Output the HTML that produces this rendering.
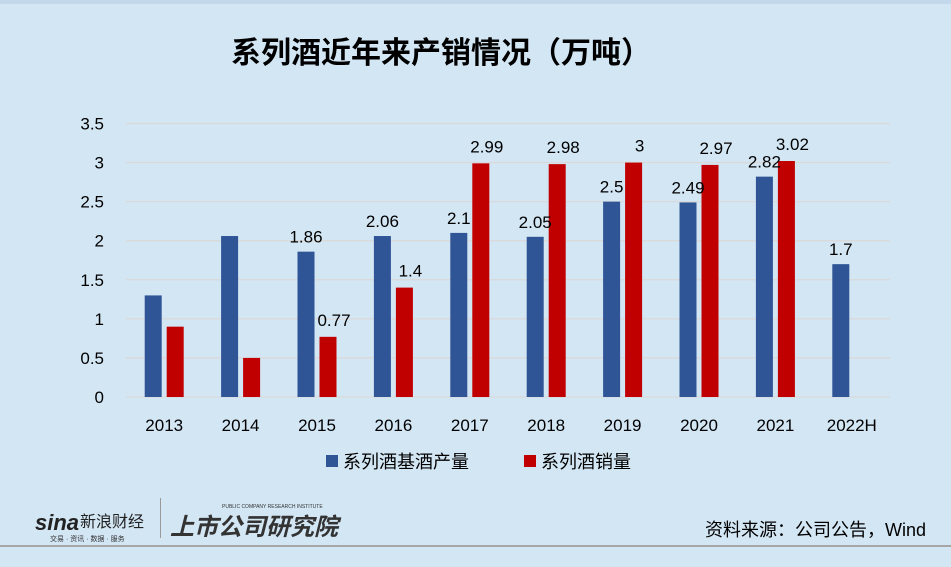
<!DOCTYPE html>
<html><head><meta charset="utf-8">
<style>
body{margin:0;background:#d3e6f4;}
#wrap{position:relative;width:951px;height:567px;background:#d3e6f4;overflow:hidden;font-family:"Liberation Sans","Noto Sans CJK SC",sans-serif;}
</style></head>
<body>
<div id="wrap">
<svg id="chart" width="951" height="567" style="position:absolute;left:0;top:0">
<rect x="0" y="0" width="951" height="567" fill="#d3e6f4"/>
<rect x="0" y="0" width="951" height="4" fill="#c3d8ea"/>
<text x="441" y="63" text-anchor="middle" font-size="30" font-weight="bold" font-family="'Liberation Sans','Noto Sans CJK SC',sans-serif" fill="#000">系列酒近年来产销情况（万吨）</text>
<g id="grid"></g><g id="yt"></g><g id="bars"></g><g id="labels"></g><g id="xt"></g>
<rect x="326" y="455" width="12" height="12" fill="#2f5597"/>
<text x="343" y="468" font-size="18" fill="#000" font-family="'Liberation Sans','Noto Sans CJK SC',sans-serif">系列酒基酒产量</text>
<rect x="524" y="455" width="12" height="12" fill="#c00000"/>
<text x="541" y="468" font-size="18" fill="#000" font-family="'Liberation Sans','Noto Sans CJK SC',sans-serif">系列酒销量</text>
<g>
<text x="35" y="530" font-size="22" font-style="italic" font-weight="bold" fill="#222">sina</text>
<text x="80" y="527" font-size="16" fill="#222" font-family="'Liberation Sans','Noto Sans CJK SC',sans-serif">新浪财经</text>
<text x="50" y="541" font-size="7" fill="#333" font-family="'Liberation Sans','Noto Sans CJK SC',sans-serif">交易 · 资讯 · 数据 · 服务</text>
<rect x="160" y="498" width="1" height="40" fill="#999"/>
<text x="170" y="535" font-size="24" font-weight="bold" font-style="italic" fill="#333" font-family="'Liberation Sans','Noto Sans CJK SC',sans-serif">上市公司研究院</text>
<text x="222" y="508" font-size="5" fill="#333">PUBLIC COMPANY RESEARCH INSTITUTE</text>
</g>
<text x="926" y="536" text-anchor="end" font-size="18" fill="#000" font-family="'Liberation Sans','Noto Sans CJK SC',sans-serif">资料来源：公司公告，Wind</text>
<rect x="0" y="545" width="951" height="2" fill="#a6a6a6"/>
</svg>
</div>
<script>
const categories=["2013","2014","2015","2016","2017","2018","2019","2020","2021","2022H"];
const production=[1.3,2.06,1.86,2.06,2.1,2.05,2.5,2.49,2.82,1.7];
const sales=[0.9,0.5,0.77,1.4,2.99,2.98,3,2.97,3.02,null];
const productionLabels=[null,null,"1.86","2.06","2.1","2.05","2.5","2.49","2.82","1.7"];
const salesLabels=[null,null,"0.77","1.4","2.99","2.98","3","2.97","3.02",null];
const yTicks=[0,0.5,1,1.5,2,2.5,3,3.5];
const yTickLabels=["0","0.5","1","1.5","2","2.5","3","3.5"];

const NS="http://www.w3.org/2000/svg";
const x0=126,x1=890,yBase=397,yTop=123.5,yMax=3.5;
const step=(x1-x0)/categories.length;
function yScale(v){return yBase-(v/yMax)*(yBase-yTop);}
function xCenter(i){return x0+step*(i+0.5);}
function mk(tag,attrs,parent){const e=document.createElementNS(NS,tag);for(const k in attrs)e.setAttribute(k,attrs[k]);parent.appendChild(e);return e;}
const grid=document.getElementById('grid'),yt=document.getElementById('yt'),bars=document.getElementById('bars'),labels=document.getElementById('labels'),xt=document.getElementById('xt');
yTicks.forEach((v,i)=>{
  const y=yScale(v);
  const l=mk('line',{x1:x0,x2:x1,y1:y,y2:y,stroke:'#d9d9d9','stroke-width':1.3},grid);
  
  
  const t=mk('text',{x:104,y:y+6,'text-anchor':'end','font-size':17,fill:'#000'},yt);
  t.textContent=yTickLabels[i];
  
  
});
const bw=17;
categories.forEach((c,i)=>{
  const cx=xCenter(i);
  if(production[i]!=null){
    const y=yScale(production[i]);
    const r=mk('rect',{x:cx-bw-2.5,y:y,width:bw,height:yBase-y,fill:'#2f5597'},bars);
    
    
    if(productionLabels[i]){
      const t=mk('text',{x:cx-bw/2-2.5,y:y-9,'text-anchor':'middle','font-size':17,fill:'#000'},labels);
      t.textContent=productionLabels[i];
      
      
    }
  }
  if(sales[i]!=null){
    const y=yScale(sales[i]);
    const r=mk('rect',{x:cx+2.5,y:y,width:bw,height:yBase-y,fill:'#c00000'},bars);
    
    
    if(salesLabels[i]){
      const t=mk('text',{x:cx+bw/2+2.5+6,y:y-11,'text-anchor':'middle','font-size':17,fill:'#000'},labels);
      t.textContent=salesLabels[i];
      
      
    }
  }
  const t=mk('text',{x:cx,y:431,'text-anchor':'middle','font-size':17,fill:'#000'},xt);
  t.textContent=c;
  
  
});
</script>
</body></html>
